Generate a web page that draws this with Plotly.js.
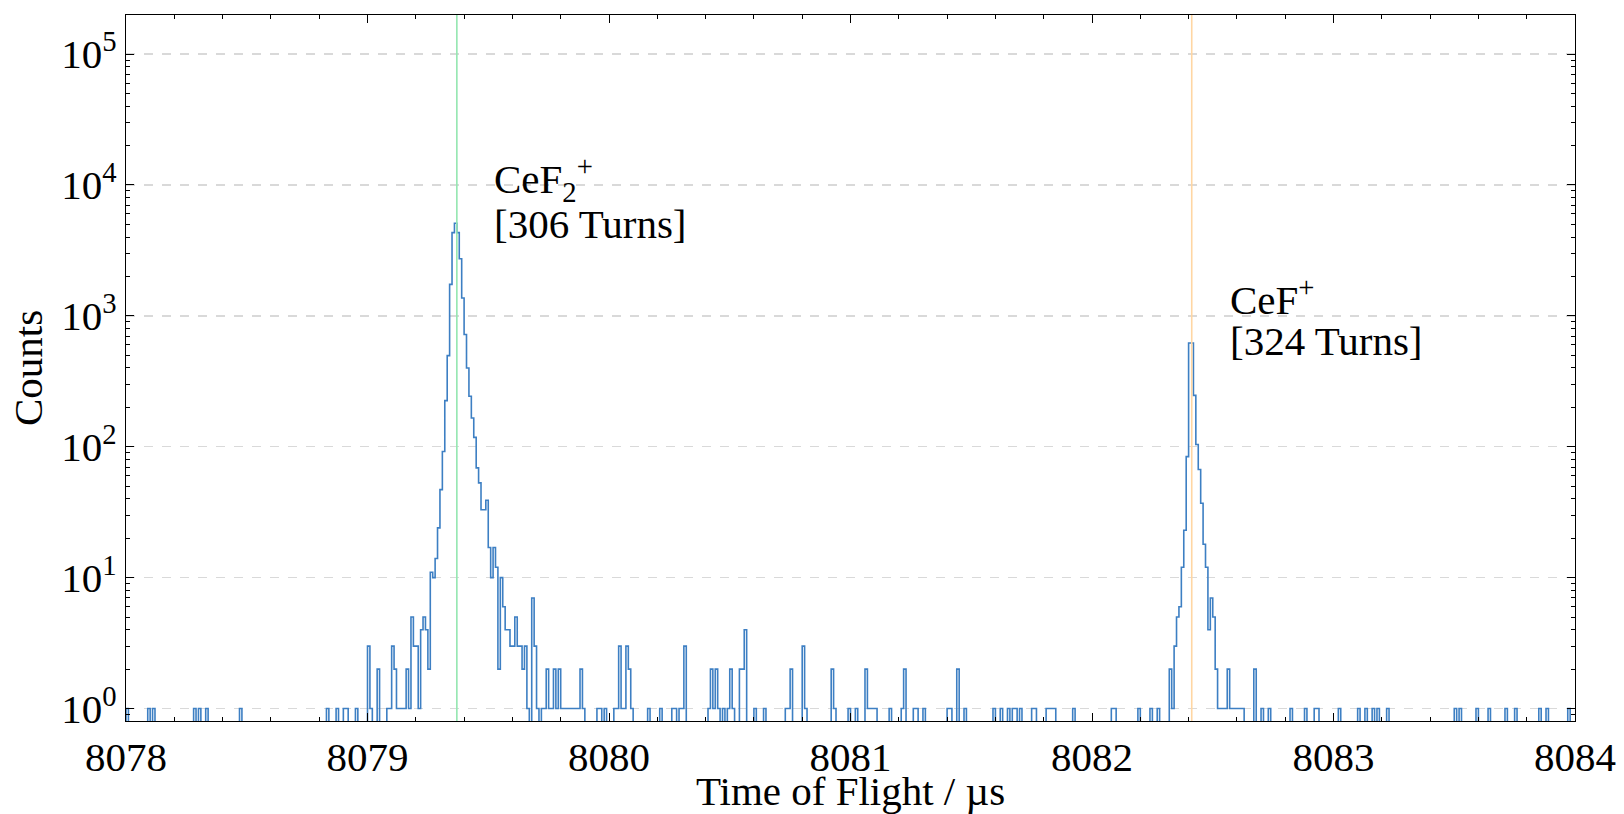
<!DOCTYPE html>
<html>
<head>
<meta charset="utf-8">
<script src="https://cdn.plot.ly/plotly-3.0.1.min.js"></script>
<style>html,body{margin:0;padding:0;background:#fff;}</style>
</head>
<body>
<div id="chart" style="width:1624px;height:814px;"></div>
<script>
// Histogram definition
const binStart = 8078.0;   // µs
const binWidth = 0.01;     // µs
const nBins = 600;

// Non-zero bins (index of bin from binStart) and their counts
const nzBin = [
  0, 9, 11, 28, 30, 33, 47, 83, 87, 90, 91, 95,
  100, 101, 104, 108, 109, 110, 111, 112, 113, 114, 115, 116, 117, 118, 119, 120,
  121, 122, 123, 124, 125, 126, 127, 128, 129, 130, 131, 132, 133, 134, 135, 136,
  137, 138, 139, 140, 141, 142, 143, 144, 145, 146, 147, 148, 149, 150, 151, 152,
  153, 154, 155, 156, 157, 158, 159, 160, 161, 162, 163, 164, 165, 166, 168, 169,
  170, 172, 173, 174, 175, 176, 177, 178, 179, 180, 181, 182, 183, 184, 185, 186,
  187, 188, 189, 195, 196, 198, 202, 203, 204, 205, 206, 207, 208, 209,
  216, 221, 226, 227, 229, 230, 231, 241, 242, 243, 244, 245, 247, 249, 250, 251,
  254, 255, 256, 260, 264, 273, 274, 275, 280, 281, 292, 293, 299, 302,
  306, 307, 308, 309, 310, 316, 321, 322, 326, 327, 330, 340, 341, 344, 347,
  359, 362, 365, 367, 368, 370, 375, 376, 381, 382, 383, 384, 392, 408, 409,
  419, 424, 427, 432, 433, 434, 435, 436, 437, 438, 439, 440, 441, 442, 443, 444,
  445, 446, 447, 448, 449, 450, 451, 452, 453, 454, 455, 456, 457, 458, 459, 460,
  461, 462, 467, 470, 473, 482, 488, 492, 493, 502, 510, 513, 516, 518, 522,
  550, 552, 559, 564, 571, 575, 585, 588, 597
];
const nzCount = [
  1, 1, 1, 1, 1, 1, 1, 1, 1, 1, 1, 1,
  3, 1, 2, 1, 1, 3, 2, 1, 1, 1, 1, 2, 1, 5, 3, 3,
  1, 4, 5, 4, 2, 11, 10, 14, 24, 47, 92, 225, 497, 1740, 4320, 5090,
  4320, 2730, 1370, 720, 400, 243, 166, 118, 69, 53, 33, 33, 39, 17, 10, 17,
  12, 2, 10, 6, 4, 4, 3, 3, 5, 3, 3, 2, 3, 1, 7, 3,
  1, 1, 1, 2, 1, 1, 2, 1, 2, 1, 1, 1, 1, 1, 1, 1,
  1, 2, 1, 1, 1, 1, 1, 1, 3, 1, 1, 3, 2, 1,
  1, 1, 1, 1, 1, 1, 3, 1, 2, 1, 2, 1, 1, 1, 2, 1,
  2, 2, 4, 1, 1, 1, 1, 2, 3, 1, 2, 1, 1, 1,
  2, 1, 1, 1, 1, 1, 1, 2, 1, 1, 1, 1, 1, 2, 1,
  1, 1, 1, 1, 1, 1, 1, 1, 1, 1, 1, 1, 1, 1, 1,
  1, 1, 1, 2, 1, 3, 5, 6, 12, 23, 84, 620, 620, 247, 104, 67,
  37, 18, 12, 4, 7, 5, 2, 1, 1, 1, 1, 2, 1, 1, 1, 1,
  1, 1, 2, 1, 1, 1, 1, 1, 1, 1, 1, 1, 1, 1, 1,
  1, 1, 1, 1, 1, 1, 1, 1, 1
];

// Reference lines and labels
const refTimes = [8079.370, 8082.413];
const refColors = ['#93e6b0', '#ffd6a3'];
const ionText = ['CeF<sub>2</sub><sup>+</sup>', 'CeF<sup>+</sup>'];
const turnsText = ['[306 Turns]', '[324 Turns]'];
const labelX = [8079.515, 8082.563];
const ionY = [0.768, 0.600];
const turnsY = [0.704, 0.538];

const xTicks = [8078, 8079, 8080, 8081, 8082, 8083, 8084];
const yTicks = [1, 10, 100, 1000, 10000, 100000];
const yTickText = ['10<sup>0</sup>', '10<sup>1</sup>', '10<sup>2</sup>', '10<sup>3</sup>', '10<sup>4</sup>', '10<sup>5</sup>'];

// Build full histogram
const counts = new Array(nBins).fill(0);
nzBin.forEach((b, i) => { counts[b] = nzCount[i]; });
const LOW = 0.1; // below the visible range: empty bins drop off the axis like a step histogram
const xs = [binStart], ys = [LOW];
for (let i = 0; i < nBins; i++) {
  xs.push(binStart + i * binWidth);
  ys.push(counts[i] > 0 ? counts[i] : LOW);
}
xs.push(binStart + nBins * binWidth);
ys.push(LOW);

// minor ticks
const xMinor = [];
for (let t = 0; t <= 30; t++) { if (t % 5 !== 0) xMinor.push(8078 + t * 0.2); }
const yMinor = [];
for (let d = -1; d <= 5; d++) for (let m = 2; m <= 9; m++) yMinor.push(m * Math.pow(10, d));

const FONT = 'Liberation Serif, Times New Roman, Times, serif';
const FS = 41;

const trace = {
  x: xs, y: ys, type: 'scatter', mode: 'lines',
  line: { shape: 'hv', color: '#3d7fc3', width: 1.6 },
  hoverinfo: 'skip', showlegend: false
};

const shapes = refTimes.map((t, i) => ({
  type: 'line', xref: 'x', yref: 'paper', x0: t, x1: t, y0: 0, y1: 1,
  line: { color: refColors[i], width: 1.6 }, layer: 'above'
}));

const annotations = [];
ionText.forEach((txt, i) => {
  annotations.push({
    text: txt, xref: 'x', yref: 'paper', x: labelX[i], y: ionY[i],
    xanchor: 'left', yanchor: 'middle', align: 'left', showarrow: false,
    font: { family: FONT, size: FS, color: '#000' }
  });
  annotations.push({
    text: turnsText[i], xref: 'x', yref: 'paper', x: labelX[i], y: turnsY[i],
    xanchor: 'left', yanchor: 'middle', align: 'left', showarrow: false,
    font: { family: FONT, size: FS, color: '#000' }
  });
});

const layout = {
  width: 1624, height: 814,
  margin: { l: 126, r: 49, t: 15, b: 93 },
  paper_bgcolor: '#ffffff', plot_bgcolor: '#ffffff',
  font: { family: FONT, size: FS, color: '#000' },
  showlegend: false,
  xaxis: {
    range: [8078, 8084], tickvals: xTicks, ticktext: xTicks.map(String),
    ticks: 'inside', ticklen: 8, tickwidth: 1, tickcolor: '#000',
    showline: true, linecolor: '#000', linewidth: 1.2, mirror: 'allticks',
    showgrid: false, zeroline: false,
    minor: { tickvals: xMinor, ticks: 'inside', ticklen: 4, tickwidth: 1, tickcolor: '#000', showgrid: false },
    tickfont: { family: FONT, size: FS, color: '#000' },
    title: { text: 'Time of Flight / µs', font: { family: FONT, size: FS, color: '#000' }, standoff: 5 }
  },
  yaxis: {
    type: 'log', range: [-0.095, 5.298], tickvals: yTicks, ticktext: yTickText,
    ticks: 'inside', ticklen: 8, tickwidth: 1, tickcolor: '#000',
    showline: true, linecolor: '#000', linewidth: 1.2, mirror: 'allticks',
    showgrid: true, gridcolor: '#d9d9d9', gridwidth: 1.5, griddash: 'dash', zeroline: false,
    minor: { tickvals: yMinor, ticks: 'inside', ticklen: 4, tickwidth: 1, tickcolor: '#000', showgrid: false },
    tickfont: { family: FONT, size: FS, color: '#000' },
    title: { text: 'Counts', font: { family: FONT, size: FS, color: '#000' }, standoff: 6 }
  },
  shapes: shapes,
  annotations: annotations
};

Plotly.newPlot('chart', [trace], layout, { staticPlot: true, displayModeBar: false });
</script>
</body>
</html>
